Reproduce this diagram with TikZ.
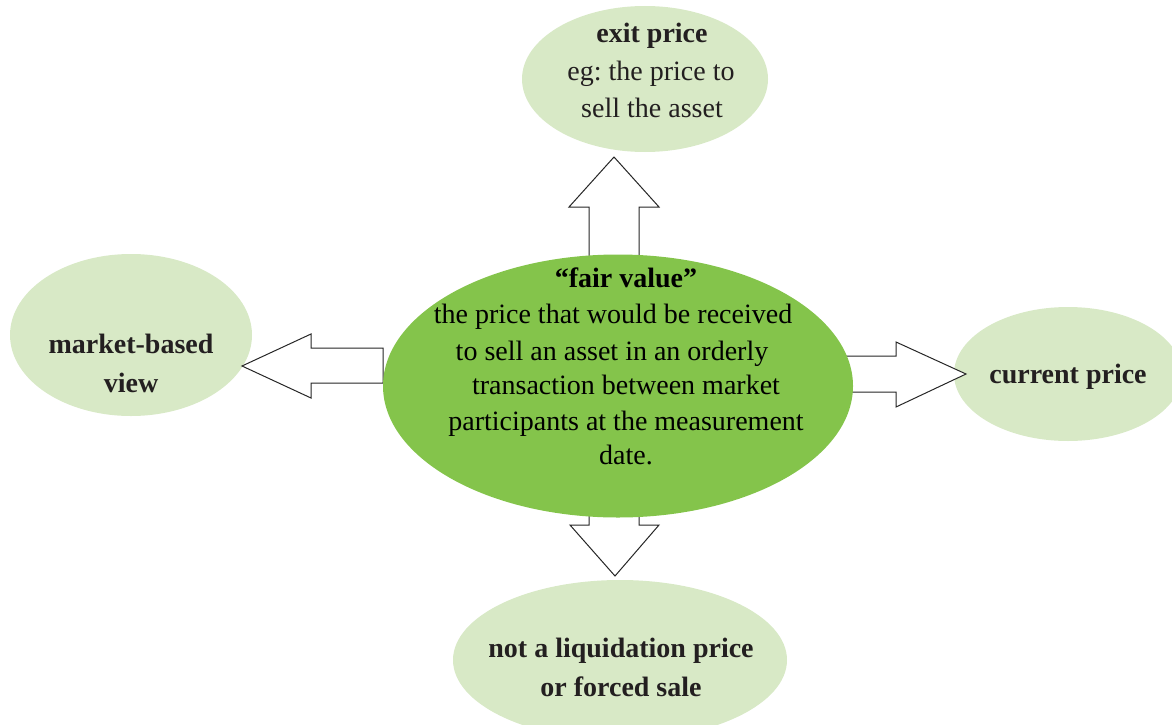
\documentclass[tikz,border=0pt]{standalone}
\usepackage{fontspec}
\setmainfont{Liberation Serif}
\usetikzlibrary{shapes.geometric}
\definecolor{coregreen}{HTML}{84C44B}
\definecolor{softgreen}{HTML}{D8E9C6}
\definecolor{ink}{HTML}{231F20}
\frenchspacing
\begin{document}
\begin{tikzpicture}[x=1pt,y=-1pt,
  soft/.style={ellipse, fill=softgreen, draw=none, inner sep=0pt},
  core/.style={ellipse, fill=coregreen, draw=none, inner sep=0pt},
  blockarrow/.style={draw=black!85, fill=white, line width=1pt, line join=miter},
  lbl/.style={anchor=base, inner sep=0pt, text=ink, font=\fontsize{28}{34}\selectfont\bfseries},
  body/.style={anchor=base, inner sep=0pt, text=black, font=\fontsize{28}{34}\selectfont},
  bodyink/.style={anchor=base, inner sep=0pt, text=ink, font=\fontsize{28}{34}\selectfont}]
\useasboundingbox (0,0) rectangle (1172,725);
\clip (0,0) rectangle (1172,725);
% outer ellipses
\node[soft, minimum width=246, minimum height=146] (exit) at (645,79) {};
\node[soft, minimum width=242, minimum height=162] (market) at (131,335) {};
\node[soft, minimum width=228, minimum height=134] (current) at (1068,374) {};
\node[soft, minimum width=334, minimum height=160] (liquid) at (620,660) {};
% block arrows
\coordinate (upTip) at (614,157);
\coordinate (leftTip) at (242,366);
\coordinate (rightTip) at (966,374);
\coordinate (downTip) at (615,576);
\draw[blockarrow] (upTip) -- ++(45,50) -- ++(-20,0) -- ++(0,55) -- ++(-50,0) -- ++(0,-55) -- ++(-20,0) -- cycle;
\draw[blockarrow] (leftTip) -- ++(69,-32) -- ++(0,14) -- ++(72,0) -- ++(0,35) -- ++(-72,0) -- ++(0,15) -- cycle;
\draw[blockarrow] (rightTip) -- ++(-70,33) -- ++(0,-15) -- ++(-56,0) -- ++(0,-36) -- ++(56,0) -- ++(0,-14) -- cycle;
\draw[blockarrow] (downTip) -- ++(-45,-51) -- ++(19,0) -- ++(0,-15) -- ++(50,0) -- ++(0,15) -- ++(20,0) -- cycle;
% centre ellipse
\node[core, minimum width=470, minimum height=263] (fair) at (618,386) {};
% texts
\node[lbl, text=black, font=\fontsize{28}{34}\selectfont\bfseries] (fairT) at (626,287) {“fair value”};
\node[body] (fairA) at (613,323) {the price that would be received};
\node[body] (fairB) at (612,360) {to sell an asset in an orderly};
\node[body] (fairC) at (626,394) {transaction between market};
\node[body] (fairD) at (626,430) {participants at the measurement};
\node[body] (fairE) at (626,464) {date.};
\node[lbl] (exitT) at (652,43) {exit price};
\node[bodyink] (exitA) at (651,81) {eg: the price to};
\node[bodyink] (exitB) at (652,117) {sell the asset};
\node[lbl] (marketA) at (131,353) {market-based};
\node[lbl] (marketB) at (131,392) {view};
\node[lbl] (currentT) at (1068,383) {current price};
\node[lbl] (liquidA) at (621,657) {not a liquidation price};
\node[lbl] (liquidB) at (621,696) {or forced sale};
\end{tikzpicture}
\end{document}
